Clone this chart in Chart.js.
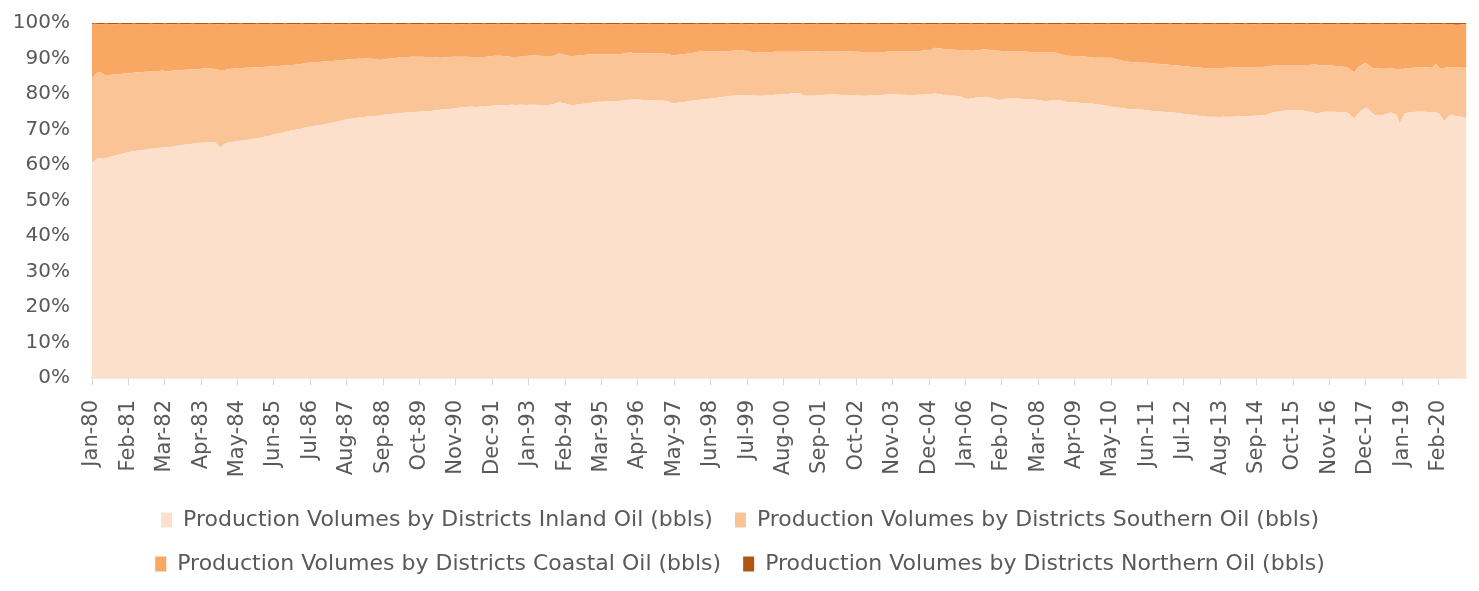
<!DOCTYPE html>
<html>
<head>
<meta charset="utf-8">
<script src="https://cdn.jsdelivr.net/npm/chart.js@4.4.1/dist/chart.umd.min.js"></script>
<style>
  html, body { margin: 0; padding: 0; background: #fff; }
  #wrap { width: 1479px; height: 591px; }
</style>
</head>
<body>
<div id="wrap"><canvas id="chart"></canvas></div>
<script>
// monthly categories, Jan-80 .. Dec-20
const monthNames = ['Jan','Feb','Mar','Apr','May','Jun','Jul','Aug','Sep','Oct','Nov','Dec'];
const firstYear = 1980;
const lastYear = 2020;
const tickEvery = 13; // label shown every 13 months

// share of total production in %, one row per year
const inlandShare = [
  60.6,61.2,61.8,62.0,61.7,61.9,62.2,62.4,62.6,62.8,63.0,63.2,
  63.4,63.6,63.7,63.9,64.0,64.1,64.2,64.3,64.5,64.6,64.6,64.7,
  64.8,64.9,64.9,65.0,65.1,65.3,65.4,65.5,65.6,65.7,65.8,65.9,
  66.0,66.1,66.2,66.3,66.3,66.4,66.5,66.5,66.4,65.5,65.0,65.8,
  66.2,66.4,66.5,66.6,66.7,66.8,66.9,67.0,67.1,67.3,67.4,67.5,
  67.7,67.9,68.0,68.2,68.4,68.6,68.8,68.9,69.1,69.3,69.5,69.7,
  69.8,70.0,70.1,70.3,70.5,70.7,70.8,70.9,71.1,71.2,71.3,71.5,
  71.6,71.8,71.9,72.1,72.3,72.5,72.7,72.8,73.0,73.1,73.2,73.3,
  73.4,73.5,73.6,73.7,73.8,73.8,73.9,74.0,74.1,74.2,74.3,74.4,
  74.5,74.5,74.6,74.7,74.7,74.8,74.9,74.9,75.0,75.0,75.1,75.1,
  75.2,75.2,75.3,75.4,75.5,75.6,75.6,75.7,75.8,75.9,76.0,76.1,
  76.2,76.3,76.4,76.4,76.4,76.3,76.4,76.5,76.4,76.5,76.6,76.7,
  76.8,76.8,76.9,76.9,76.8,76.9,77.0,76.9,76.9,77.0,77.0,76.9,
  77.0,77.0,77.0,76.9,76.8,76.7,76.8,76.9,77.0,77.2,77.5,77.7,
  77.5,77.3,77.1,76.9,76.9,77.0,77.1,77.2,77.3,77.4,77.5,77.7,
  77.7,77.8,77.8,77.9,77.9,78.0,78.0,78.0,78.0,78.1,78.2,78.3,
  78.4,78.4,78.5,78.5,78.4,78.3,78.3,78.3,78.3,78.2,78.2,78.2,
  78.2,78.0,77.8,77.5,77.4,77.5,77.6,77.7,77.8,78.0,78.1,78.2,
  78.3,78.4,78.5,78.6,78.6,78.7,78.8,78.9,79.0,79.1,79.2,79.3,
  79.5,79.5,79.6,79.6,79.7,79.7,79.7,79.6,79.6,79.5,79.5,79.5,
  79.5,79.6,79.7,79.7,79.8,79.8,79.9,79.9,80.0,80.0,80.2,80.2,
  80.2,80.3,79.5,79.5,79.5,79.5,79.5,79.6,79.6,79.7,79.8,79.8,
  79.9,79.9,79.8,79.8,79.7,79.7,79.7,79.6,79.6,79.6,79.5,79.5,
  79.5,79.5,79.6,79.6,79.7,79.7,79.7,79.8,79.8,79.9,79.9,79.9,
  79.8,79.8,79.8,79.7,79.7,79.7,79.7,79.8,79.8,79.8,79.9,79.9,
  80.0,80.2,80.0,79.9,79.7,79.6,79.6,79.5,79.5,79.4,79.4,79.0,
  78.7,78.6,78.8,78.9,79.0,79.1,79.1,79.2,79.1,78.9,78.7,78.5,
  78.3,78.4,78.6,78.7,78.8,78.8,78.7,78.7,78.6,78.6,78.6,78.5,
  78.5,78.4,78.3,78.2,78.0,78.0,78.1,78.2,78.3,78.3,78.2,78.0,
  77.7,77.7,77.6,77.6,77.6,77.5,77.5,77.4,77.3,77.3,77.2,77.1,
  77.0,76.9,76.7,76.6,76.4,76.3,76.2,76.1,76.0,75.9,75.8,75.8,
  75.7,75.7,75.6,75.6,75.5,75.4,75.3,75.2,75.1,75.1,75.0,75.0,
  74.9,74.8,74.8,74.7,74.6,74.5,74.4,74.3,74.2,74.1,74.0,73.9,
  73.8,73.7,73.6,73.6,73.6,73.6,73.5,73.5,73.6,73.6,73.6,73.6,
  73.6,73.7,73.7,73.7,73.7,73.7,73.8,73.9,73.9,74.0,74.0,74.1,
  74.3,74.5,74.8,75.0,75.1,75.2,75.3,75.4,75.5,75.5,75.5,75.5,
  75.4,75.3,75.1,75.0,74.8,74.6,74.6,74.8,74.9,75.0,75.0,75.0,
  75.0,74.9,74.8,74.8,74.8,74.5,73.6,73.2,74.2,75.0,75.6,76.2,
  75.6,74.8,74.1,74.0,74.1,74.1,74.3,74.6,74.8,74.5,74.1,71.7,
  73.0,74.6,74.7,74.8,74.9,75.0,75.1,75.1,75.0,74.9,74.8,74.8,
  74.8,74.6,73.5,72.4,73.3,74.1,74.0,73.8,73.7,73.6,73.4,73.2
];

// inland + southern, % of total (top edge of the southern band)
const inlandPlusSouthern = [
  84.4,85.3,86.0,86.1,85.6,85.1,85.3,85.4,85.5,85.6,85.6,85.7,
  85.8,85.8,85.9,86.0,86.1,86.1,86.2,86.3,86.3,86.4,86.5,86.5,
  86.5,86.6,86.5,86.4,86.5,86.6,86.6,86.7,86.7,86.8,86.8,86.9,
  86.9,87.0,87.0,87.1,87.2,87.3,87.2,87.1,87.0,86.8,86.5,86.7,
  86.9,87.0,87.1,87.2,87.3,87.3,87.3,87.4,87.4,87.5,87.5,87.5,
  87.6,87.6,87.7,87.7,87.8,87.8,87.9,87.9,88.0,88.0,88.1,88.2,
  88.2,88.3,88.4,88.5,88.7,88.8,88.8,88.9,89.0,89.0,89.1,89.2,
  89.2,89.3,89.3,89.4,89.5,89.6,89.6,89.7,89.7,89.8,89.8,89.9,
  89.9,89.9,90.0,89.9,89.9,89.8,89.7,89.6,89.7,89.8,90.0,90.0,
  90.1,90.2,90.4,90.4,90.4,90.4,90.5,90.5,90.5,90.5,90.5,90.4,
  90.4,90.4,90.4,90.3,90.2,90.2,90.3,90.4,90.4,90.5,90.5,90.5,
  90.5,90.5,90.5,90.4,90.4,90.4,90.4,90.4,90.4,90.5,90.6,90.7,
  90.8,90.8,90.8,90.7,90.6,90.5,90.4,90.4,90.4,90.5,90.6,90.7,
  90.8,90.9,90.9,90.8,90.8,90.7,90.7,90.7,90.7,90.8,91.1,91.4,
  91.2,91.0,90.8,90.7,90.7,90.8,90.9,91.0,91.0,91.1,91.1,91.2,
  91.2,91.2,91.2,91.2,91.2,91.2,91.2,91.2,91.2,91.3,91.4,91.5,
  91.7,91.6,91.5,91.5,91.5,91.4,91.4,91.4,91.4,91.4,91.4,91.4,
  91.4,91.3,91.1,91.0,90.9,90.9,91.1,91.2,91.3,91.4,91.5,91.6,
  91.8,92.0,92.1,92.1,92.0,92.0,92.0,92.0,92.0,92.1,92.1,92.1,
  92.1,92.2,92.3,92.4,92.4,92.2,92.0,91.9,91.8,91.8,91.7,91.7,
  91.7,91.7,91.8,91.8,91.9,91.9,91.9,91.9,91.9,91.9,91.9,91.9,
  91.9,91.9,92.0,92.0,92.0,92.0,92.0,92.0,92.1,92.1,92.1,92.1,
  92.1,92.1,92.1,92.1,92.0,92.0,92.0,92.0,91.9,91.9,91.9,91.8,
  91.8,91.8,91.8,91.8,91.8,91.8,91.8,91.8,91.9,92.0,92.1,92.1,
  92.1,92.0,92.0,92.0,92.0,92.0,92.0,92.0,92.1,92.3,92.5,92.2,
  92.6,93.0,92.9,92.8,92.7,92.6,92.6,92.5,92.5,92.4,92.4,92.4,
  92.3,92.3,92.2,92.2,92.3,92.4,92.5,92.6,92.5,92.4,92.3,92.2,
  92.2,92.1,92.1,92.0,92.0,92.0,92.0,92.0,92.0,92.0,91.9,91.8,
  91.7,91.7,91.7,91.7,91.7,91.7,91.7,91.7,91.7,91.5,91.2,91.0,
  90.8,90.8,90.7,90.7,90.7,90.6,90.6,90.5,90.4,90.3,90.2,90.2,
  90.2,90.2,90.2,90.2,90.2,90.0,89.8,89.6,89.4,89.2,89.1,89.0,
  89.0,88.9,88.9,88.8,88.8,88.8,88.7,88.6,88.5,88.5,88.4,88.4,
  88.3,88.2,88.2,88.1,88.0,87.9,87.9,87.8,87.7,87.6,87.5,87.5,
  87.4,87.3,87.3,87.2,87.2,87.2,87.2,87.3,87.3,87.4,87.4,87.5,
  87.5,87.5,87.6,87.6,87.6,87.6,87.6,87.6,87.6,87.6,87.6,87.7,
  87.8,87.9,88.0,88.1,88.2,88.2,88.2,88.2,88.2,88.2,88.2,88.2,
  88.2,88.2,88.2,88.2,88.3,88.3,88.2,88.1,88.1,88.0,88.0,88.0,
  87.9,87.9,87.8,87.7,87.6,87.2,86.5,86.1,87.3,88.0,88.4,88.8,
  88.2,87.5,87.2,87.2,87.2,87.1,87.1,87.1,87.2,87.1,87.0,86.8,
  87.0,87.2,87.3,87.3,87.4,87.4,87.5,87.5,87.5,87.6,87.6,87.6,
  88.5,87.6,87.0,87.3,87.5,87.6,87.6,87.5,87.5,87.4,87.4,87.4
];

// northern share, % of total (thin band at the top)
const northernShare = [
  0.3,0.2,0.3,0.4,0.3,0.2,0.3,0.3,0.4,0.3,0.2,0.3,
  0.3,0.4,0.3,0.2,0.3,0.3,0.4,0.3,0.3,0.2,0.3,0.4,
  0.3,0.3,0.2,0.3,0.4,0.3,0.3,0.2,0.3,0.3,0.4,0.3,
  0.2,0.3,0.3,0.4,0.3,0.3,0.2,0.3,0.3,0.4,0.3,0.3,
  0.2,0.3,0.4,0.3,0.3,0.2,0.3,0.3,0.4,0.3,0.3,0.2,
  0.3,0.4,0.3,0.3,0.2,0.3,0.3,0.4,0.3,0.2,0.3,0.3,
  0.4,0.3,0.3,0.2,0.3,0.3,0.4,0.3,0.3,0.2,0.3,0.4,
  0.3,0.3,0.2,0.3,0.3,0.4,0.3,0.3,0.2,0.3,0.4,0.3,
  0.3,0.2,0.3,0.3,0.4,0.3,0.2,0.3,0.3,0.4,0.3,0.3,
  0.2,0.3,0.4,0.3,0.3,0.2,0.3,0.3,0.4,0.3,0.3,0.2,
  0.3,0.4,0.3,0.2,0.3,0.3,0.4,0.3,0.3,0.2,0.3,0.3,
  0.4,0.3,0.3,0.2,0.3,0.4,0.3,0.3,0.2,0.3,0.3,0.4,
  0.3,0.2,0.3,0.3,0.4,0.3,0.3,0.2,0.3,0.4,0.3,0.3,
  0.2,0.3,0.3,0.4,0.3,0.2,0.3,0.3,0.4,0.3,0.3,0.2,
  0.3,0.4,0.3,0.3,0.2,0.3,0.3,0.4,0.3,0.2,0.3,0.3,
  0.4,0.3,0.3,0.2,0.3,0.3,0.4,0.3,0.3,0.2,0.3,0.4,
  0.3,0.3,0.2,0.3,0.3,0.4,0.3,0.2,0.3,0.3,0.4,0.3,
  0.3,0.2,0.3,0.4,0.3,0.3,0.2,0.3,0.3,0.4,0.3,0.3,
  0.2,0.3,0.3,0.4,0.3,0.2,0.3,0.3,0.4,0.3,0.3,0.2,
  0.3,0.4,0.3,0.3,0.2,0.3,0.3,0.4,0.3,0.2,0.3,0.3,
  0.4,0.3,0.3,0.2,0.3,0.3,0.4,0.3,0.3,0.2,0.3,0.4,
  0.3,0.3,0.2,0.3,0.3,0.4,0.3,0.2,0.3,0.3,0.4,0.3,
  0.3,0.2,0.3,0.4,0.3,0.3,0.2,0.3,0.3,0.4,0.3,0.3,
  0.2,0.3,0.3,0.4,0.3,0.2,0.3,0.3,0.4,0.3,0.3,0.2,
  0.3,0.4,0.3,0.3,0.2,0.3,0.3,0.4,0.3,0.2,0.3,0.3,
  0.4,0.3,0.3,0.2,0.3,0.3,0.4,0.3,0.3,0.2,0.3,0.4,
  0.3,0.3,0.2,0.3,0.3,0.4,0.3,0.2,0.3,0.3,0.4,0.3,
  0.3,0.2,0.3,0.4,0.3,0.3,0.2,0.3,0.3,0.4,0.3,0.3,
  0.2,0.3,0.3,0.4,0.3,0.2,0.3,0.3,0.4,0.3,0.3,0.2,
  0.3,0.4,0.3,0.3,0.2,0.3,0.3,0.4,0.3,0.2,0.3,0.3,
  0.4,0.3,0.3,0.2,0.3,0.3,0.4,0.3,0.3,0.2,0.3,0.4,
  0.3,0.3,0.2,0.3,0.3,0.4,0.3,0.2,0.3,0.3,0.4,0.3,
  0.3,0.2,0.3,0.4,0.3,0.3,0.2,0.3,0.3,0.4,0.3,0.3,
  0.2,0.3,0.3,0.4,0.3,0.2,0.3,0.3,0.4,0.3,0.3,0.2,
  0.3,0.4,0.3,0.3,0.2,0.3,0.3,0.4,0.3,0.2,0.3,0.3,
  0.4,0.3,0.3,0.2,0.3,0.3,0.4,0.3,0.3,0.2,0.3,0.4,
  0.3,0.3,0.2,0.3,0.3,0.4,0.3,0.2,0.3,0.3,0.4,0.3,
  0.3,0.2,0.3,0.4,0.3,0.3,0.2,0.3,0.3,0.4,0.3,0.3,
  0.2,0.3,0.3,0.4,0.3,0.2,0.3,0.3,0.4,0.3,0.3,0.2,
  0.3,0.4,0.3,0.3,0.2,0.3,0.3,0.4,0.3,0.2,0.3,0.3,
  0.4,0.3,0.3,0.2,0.3,0.3,0.4,0.5,0.5,0.4,0.3,0.3
];

const seriesNames = [
  'Production Volumes by Districts Inland Oil (bbls)',
  'Production Volumes by Districts Southern Oil (bbls)',
  'Production Volumes by Districts Coastal Oil (bbls)',
  'Production Volumes by Districts Northern Oil (bbls)'
];
const seriesColors = ['#FCE0CB', '#FAC496', '#F8A862', '#B0560E'];

// labels like Jan-80
const labels = [];
for (let y = firstYear; y <= lastYear; y++) {
  monthNames.forEach(m => labels.push(m + '-' + String(y).slice(2)));
}

// stack pieces
const southernShare = inlandPlusSouthern.map((v, i) => +(v - inlandShare[i]).toFixed(2));
const coastalShare = inlandPlusSouthern.map((v, i) => +(100 - v - northernShare[i]).toFixed(2));
const shares = [inlandShare, southernShare, coastalShare, northernShare];

const FONT = '"DejaVu Sans"';
const GREY = '#595959';

const datasets = shares.map((d, i) => ({
  label: seriesNames[i],
  data: d,
  backgroundColor: seriesColors[i],
  borderColor: seriesColors[i],
  borderWidth: 0,
  pointRadius: 0,
  pointHoverRadius: 0,
  tension: 0,
  fill: i === 0 ? 'origin' : '-1'
}));

const chartOptions = {
  responsive: true,
  maintainAspectRatio: false,
  animation: false,
  layout: { padding: { left: 12, right: 11, top: 23, bottom: 6 } },
  plugins: {
    legend: {
      position: 'bottom',
      labels: {
        color: GREY,
        font: { family: FONT, size: 22 },
        boxWidth: 11,
        boxHeight: 15,
        padding: 22
      }
    },
    tooltip: { enabled: false }
  },
  scales: {
    x: {
      stacked: true,
      offset: false,
      grid: {
        display: true,
        drawOnChartArea: false,
        drawTicks: true,
        tickLength: 7,
        color: '#D9D9D9'
      },
      border: { display: true, color: '#D9D9D9', width: 1.5 },
      ticks: {
        autoSkip: false,
        maxRotation: 90,
        minRotation: 90,
        padding: 15,
        color: GREY,
        font: { family: FONT, size: 21 },
        callback: (val, idx) => idx % tickEvery === 0 ? labels[idx] : null
      },
      afterFit: scale => { scale.height = 109; }
    },
    y: {
      stacked: true,
      min: 0,
      max: 100,
      // invisible tick marks keep the labels away from the plot
      grid: { display: true, drawOnChartArea: false, drawTicks: true, tickLength: 20, color: 'rgba(0,0,0,0)' },
      border: { display: false },
      ticks: {
        stepSize: 10,
        padding: 2,
        color: GREY,
        font: { family: FONT, size: 20 },
        callback: v => v + '%'
      },
      afterFit: scale => { scale.width = 80; }
    }
  }
};

function createDrawChart(ctx, chartType, data, options) {
  return new Chart(ctx, { type: chartType, data: data, options: options });
}

createDrawChart(document.getElementById('chart'), 'line', { labels: labels, datasets: datasets }, chartOptions);
</script>
</body>
</html>
